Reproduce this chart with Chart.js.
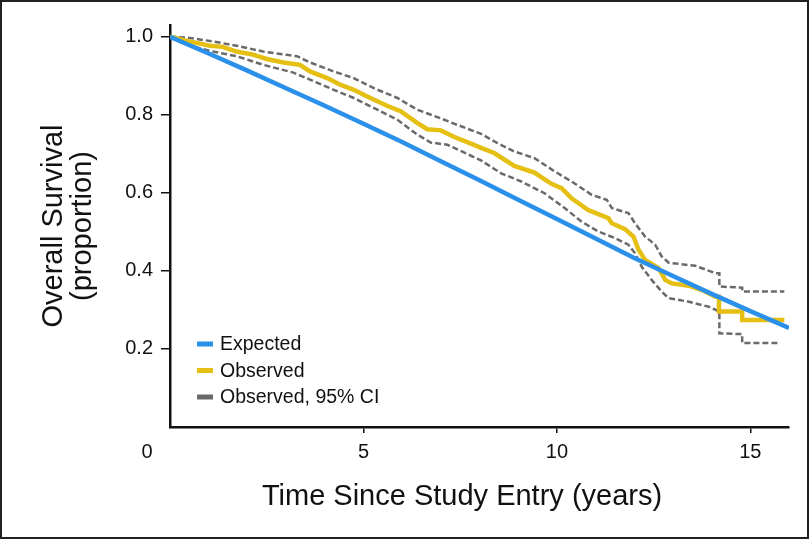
<!DOCTYPE html>
<html>
<head>
<meta charset="utf-8">
<script src="https://cdn.jsdelivr.net/npm/chart.js@4"></script>
<style>
  html, body { margin: 0; padding: 0; background: #fff; }
  #wrap { width: 809px; height: 539px; }
</style>
</head>
<body>
<div id="wrap"><canvas id="km" width="809" height="539"></canvas></div>
<script>
// expected survival
const expT = [0, 1, 2, 3, 4, 5, 6, 7, 8, 9, 10, 11, 12, 13, 14, 15, 16]
const expS = [1.0, 0.957, 0.913, 0.868, 0.823, 0.777, 0.730, 0.681, 0.632, 0.582, 0.533, 0.483, 0.433, 0.387, 0.341, 0.297, 0.254]

// observed (Kaplan-Meier)
const obsT = [0, 0.5, 1.03, 1.36, 1.72, 2.15, 2.5, 2.93, 3.36, 3.62, 4.06, 4.4, 4.75, 5.18, 5.61, 5.96, 6.39, 6.65, 7.0, 7.35, 7.78, 8.04, 8.38, 8.9, 9.42, 9.86, 10.12, 10.38, 10.81, 11.33, 11.42, 11.76, 11.98, 12.11, 12.28, 12.63, 12.8, 12.97, 13.41, 13.75, 14.1, 14.19, 14.19, 14.79, 14.79, 15.88]
const obsS = [1.0, 0.988, 0.977, 0.974, 0.962, 0.954, 0.943, 0.934, 0.928, 0.911, 0.894, 0.877, 0.864, 0.843, 0.823, 0.809, 0.779, 0.763, 0.760, 0.743, 0.726, 0.715, 0.702, 0.669, 0.652, 0.623, 0.612, 0.586, 0.556, 0.535, 0.522, 0.507, 0.488, 0.454, 0.428, 0.407, 0.377, 0.368, 0.362, 0.351, 0.334, 0.334, 0.296, 0.296, 0.274, 0.274]

// 95% CI bounds
const upT = [0, 0.5, 1.1, 1.72, 2.41, 3.28, 3.62, 4.23, 4.75, 5.27, 5.88, 6.39, 6.91, 7.43, 8.04, 8.47, 8.9, 9.42, 9.94, 10.38, 10.9, 11.29, 11.42, 11.85, 12.02, 12.28, 12.54, 12.71, 12.89, 13.58, 14.1, 14.2, 14.2, 14.79, 14.79, 15.88]
const upS = [1.0, 0.997, 0.988, 0.977, 0.962, 0.950, 0.934, 0.911, 0.894, 0.868, 0.843, 0.813, 0.794, 0.774, 0.751, 0.727, 0.706, 0.689, 0.655, 0.629, 0.595, 0.582, 0.561, 0.548, 0.522, 0.488, 0.467, 0.437, 0.421, 0.413, 0.394, 0.394, 0.360, 0.357, 0.347, 0.347]
const loT = [0, 0.5, 1.11, 1.72, 2.41, 3.19, 3.62, 4.23, 4.75, 5.36, 5.88, 6.39, 6.74, 7.17, 7.78, 8.04, 8.56, 9.08, 9.68, 10.2, 10.64, 11.07, 11.5, 11.85, 12.02, 12.19, 12.45, 12.71, 12.89, 13.41, 13.93, 14.2, 14.2, 14.79, 14.79, 15.78]
const loS = [1.0, 0.977, 0.962, 0.950, 0.928, 0.908, 0.890, 0.864, 0.843, 0.813, 0.787, 0.749, 0.729, 0.723, 0.695, 0.683, 0.650, 0.629, 0.599, 0.561, 0.526, 0.501, 0.484, 0.467, 0.445, 0.411, 0.377, 0.347, 0.330, 0.321, 0.308, 0.296, 0.240, 0.238, 0.215, 0.215]

const xTicks = [5, 10, 15]
const yTicks = [0.2, 0.4, 0.6, 0.8, 1.0]
const legendLabels = ['Expected', 'Observed', 'Observed, 95% CI']
const xTitle = 'Time Since Study Entry (years)'

const BLUE = '#2b90ea'
const GOLD = '#e5bf12'
const GREY = '#6a6a6a'
const INK = '#111'
const FONT = '"Liberation Sans", Arial, sans-serif'

const pts = (t, s) => t.map((x, i) => ({ x: x, y: s[i] }))

const overlay = {
  id: 'overlay',
  beforeDraw(chart) {
    const c = chart.ctx
    c.save()
    c.fillStyle = '#fff'
    c.fillRect(0, 0, chart.width, chart.height)
    c.restore()
  },
  afterDraw(chart) {
    const c = chart.ctx, a = chart.chartArea
    c.save()
    c.fillStyle = INK
    c.textAlign = 'center'
    c.textBaseline = 'middle'

    // shared origin label
    c.font = '20px ' + FONT
    c.fillText('0', a.left - 23, 452)

    // x axis title, set a little left of the plot centre as in the original
    c.font = '29px ' + FONT
    c.fillText(xTitle, 462, 497)

    // legend in the lower left of the plot
    const cols = [BLUE, GOLD, GREY]
    c.font = '19.5px ' + FONT
    c.textAlign = 'left'
    legendLabels.forEach((lbl, i) => {
      const y = a.bottom - 83 + i * 26.5
      c.fillStyle = cols[i]
      c.fillRect(a.left + 27, y - 2.5, 16, 5)
      c.fillStyle = INK
      c.fillText(lbl, a.left + 50, y + 1)
    })

    // frame
    c.strokeStyle = '#222'
    c.lineWidth = 2
    c.strokeRect(1, 1, chart.width - 2, chart.height - 2)
    c.restore()
  }
}

const data = {
  datasets: [
    { label: 'Expected', data: pts(expT, expS), borderColor: BLUE, borderWidth: 4.5 },
    { label: 'Observed', data: pts(obsT, obsS), borderColor: GOLD, borderWidth: 4.5 },
    { label: 'Observed, 95% CI', data: pts(upT, upS), borderColor: GREY, borderWidth: 2.5, borderDash: [6, 3] },
    { label: 'Observed, 95% CI (lower)', data: pts(loT, loS), borderColor: GREY, borderWidth: 2.5, borderDash: [6, 3] }
  ]
}

const config = {
  type: 'line',
  data: data,
  options: {
    responsive: false,
    animation: false,
    devicePixelRatio: 1,
    layout: { padding: { left: 0, top: 25, right: 20, bottom: 0 } },
    elements: { point: { radius: 0 }, line: { tension: 0, borderCapStyle: 'butt' } },
    plugins: { legend: { display: false }, tooltip: { enabled: false } },
    scales: {
      x: {
        type: 'linear',
        min: 0,
        max: 16,
        afterFit: s => { s.height = 112 },
        afterBuildTicks: s => { s.ticks = xTicks.map(v => ({ value: v })) },
        grid: { drawOnChartArea: false, color: INK, lineWidth: 1.5, tickLength: 6 },
        border: { display: true, color: INK, width: 2.5 },
        ticks: { color: INK, padding: 7, maxRotation: 0, font: { family: FONT, size: 20 } },
        title: { display: false }
      },
      y: {
        min: 0,
        max: 1.03,
        afterFit: s => { s.width = 170 },
        afterBuildTicks: s => { s.ticks = yTicks.map(v => ({ value: v })) },
        grid: { drawOnChartArea: false, color: INK, lineWidth: 1.5, tickLength: 9 },
        border: { display: true, color: INK, width: 2.5 },
        ticks: { color: INK, padding: 8, font: { family: FONT, size: 20 }, callback: v => Number(v).toFixed(1) },
        title: {
          display: true,
          text: ['Overall Survival', '(proportion)'],
          color: INK,
          font: { family: FONT, size: 29, lineHeight: 1.0 },
          padding: { top: 39, bottom: 0 }
        }
      }
    }
  },
  plugins: [overlay]
}

let chart = new Chart(document.querySelector('#km'), config)
</script>
</body>
</html>
